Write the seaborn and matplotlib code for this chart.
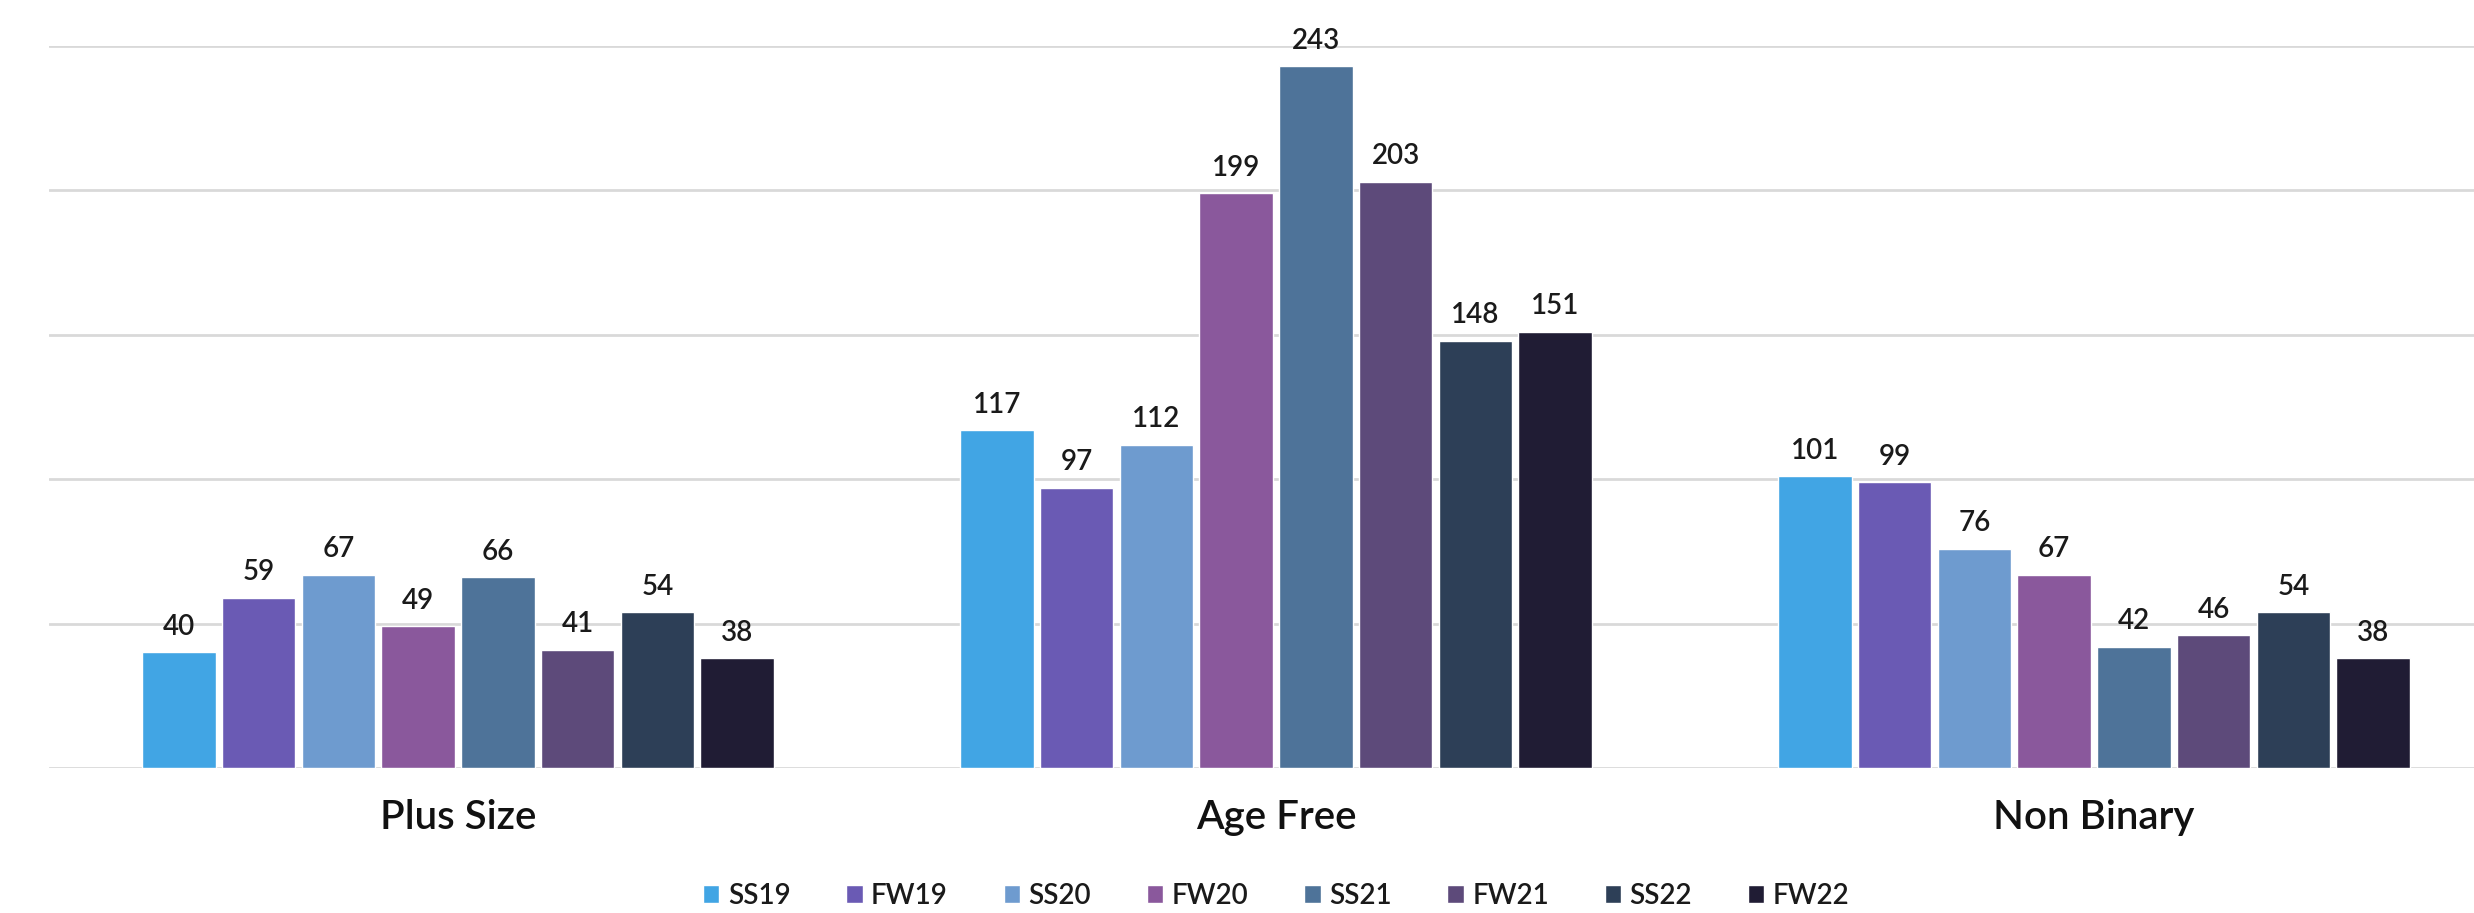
import matplotlib
matplotlib.use("Agg")
import matplotlib.pyplot as plt
import seaborn as sns
import pandas as pd

# Categories, seasons and counts
categories = ["Plus Size", "Age Free", "Non Binary"]
seasons = ["SS19", "FW19", "SS20", "FW20", "SS21", "FW21", "SS22", "FW22"]
plus_size = [40, 59, 67, 49, 66, 41, 54, 38]
age_free = [117, 97, 112, 199, 243, 203, 148, 151]
non_binary = [101, 99, 76, 67, 42, 46, 54, 38]
season_colors = ["#41A5E4", "#6A5AB4", "#6E9BCF", "#8A589C",
                 "#4E7399", "#5D4A7A", "#2D3F57", "#201C34"]

rows = []
for cat, vals in zip(categories, [plus_size, age_free, non_binary]):
    for s, v in zip(seasons, vals):
        rows.append({"category": cat, "season": s, "count": v})
df = pd.DataFrame(rows)

sns.set_theme(style="white")
plt.rcParams["font.family"] = ["Lato", "DejaVu Sans"]

fig = plt.figure(figsize=(24.74, 9.13), dpi=100)
ax = fig.add_axes([49 / 2474, 145 / 913, 2454 / 2474, 722 / 913])

sns.barplot(data=df, x="category", y="count", hue="season",
            order=categories, hue_order=seasons,
            palette=season_colors, width=0.78, gap=0.08,
            saturation=1, ax=ax, legend=True)

for cont in ax.containers:
    ax.bar_label(cont, fmt="%d", padding=9, fontsize=20,
                 fontweight="semibold", color="#1A1A1A")

ax.set_ylim(0, 250)
ax.set_xlim(-0.5, 2.5)
ax.set_yticks([0, 50, 100, 150, 200, 250])
ax.yaxis.grid(True, color="#D9D9D9", linewidth=2)
ax.set_axisbelow(True)
ax.set_yticklabels([])
ax.tick_params(axis="y", length=0)
ax.tick_params(axis="x", length=0, pad=22, labelsize=29, labelcolor="#111111")
for lbl in ax.get_xticklabels():
    lbl.set_fontweight("semibold")
ax.set_xlabel("")
ax.set_ylabel("")
for sp in ax.spines.values():
    sp.set_visible(False)

leg = ax.legend(loc="center", bbox_to_anchor=(0.5, -0.177), ncol=8,
                frameon=False, handlelength=0.6,
                handleheight=0.6, handletextpad=0.3, columnspacing=2.0,
                prop={"size": 20, "weight": "semibold"})
for t in leg.get_texts():
    t.set_color("#1A1A1A")

fig.savefig("out.png", dpi=100)
